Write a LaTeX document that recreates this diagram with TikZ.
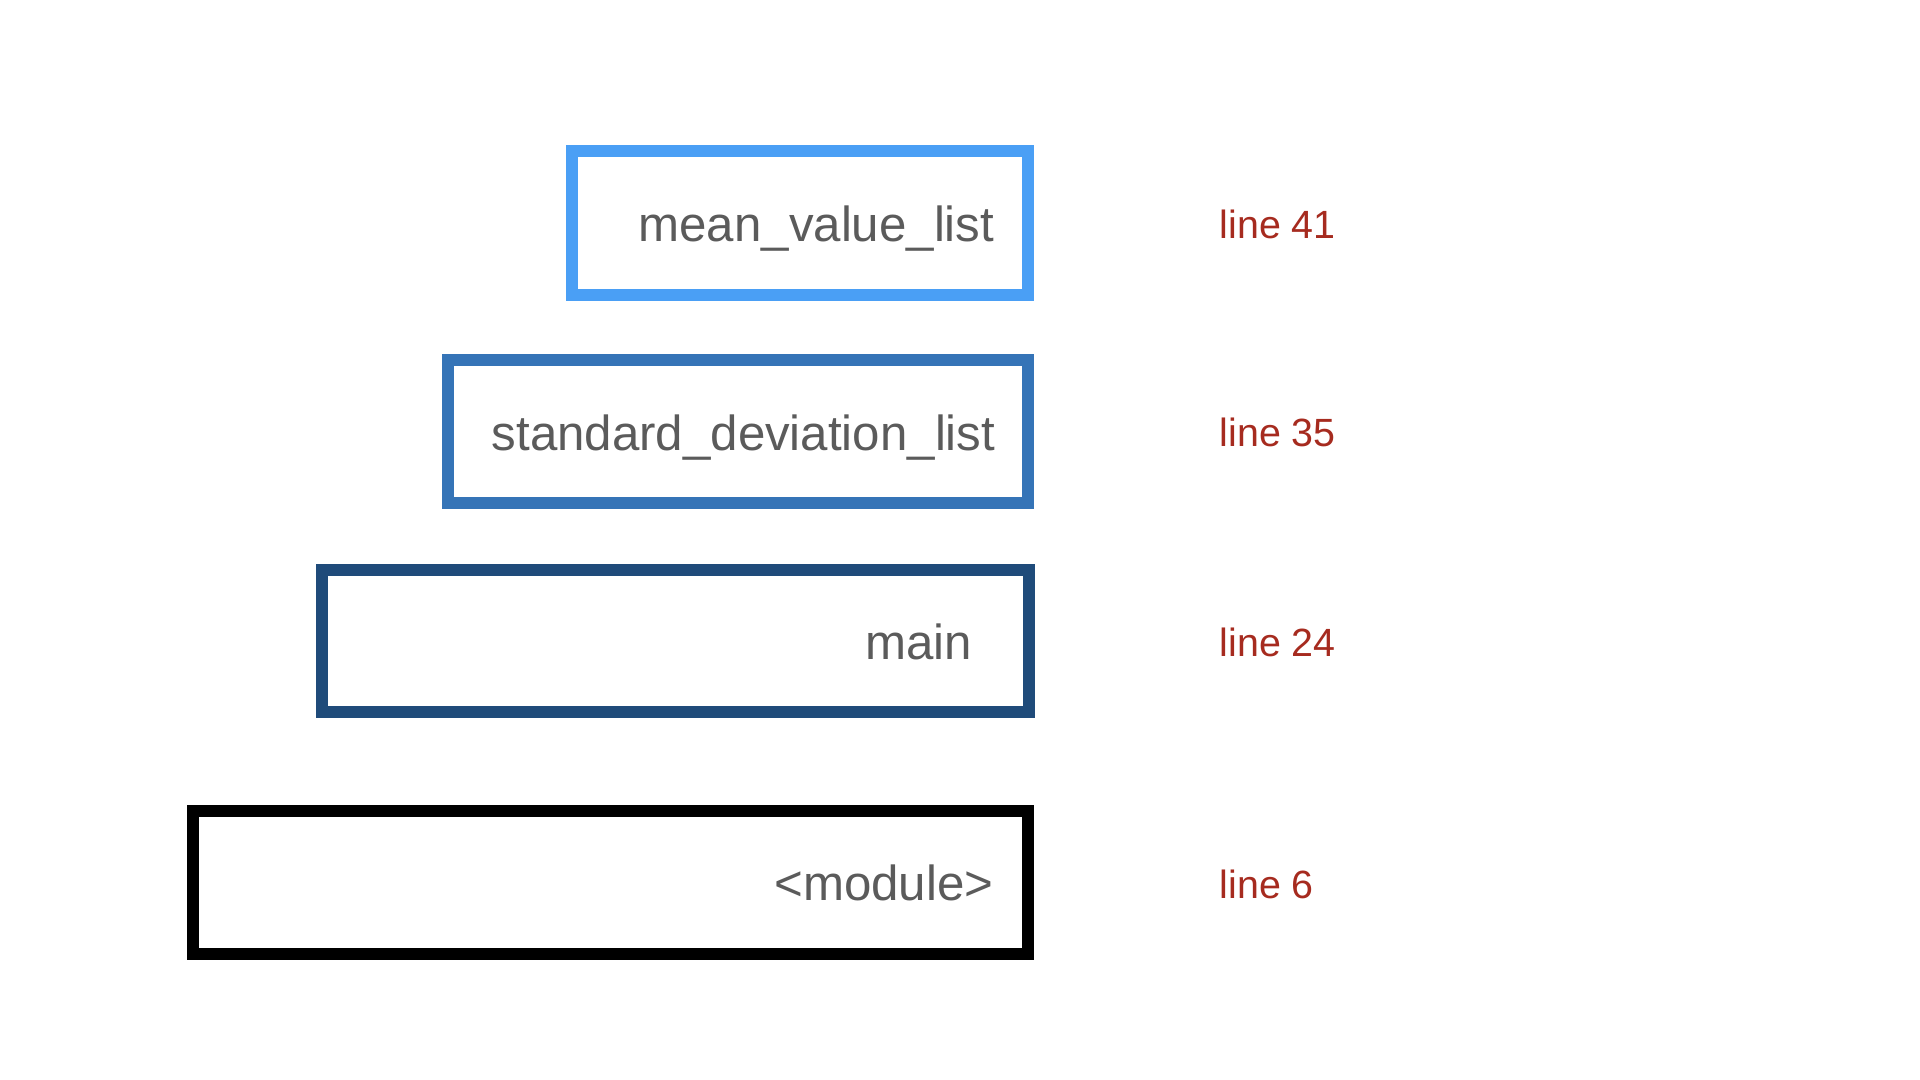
\documentclass[tikz,border=0pt]{standalone}
\usepackage{fontspec}
\setmainfont{Liberation Sans}
\definecolor{lightblue}{HTML}{4A9FF5}
\definecolor{midblue}{HTML}{3574B7}
\definecolor{darkblue}{HTML}{1F4B7A}
\definecolor{txtgray}{HTML}{5B5B5B}
\definecolor{linered}{HTML}{A62B1F}
\tikzset{
  framebox/.style={draw, line width=0.12cm, rectangle, inner sep=0pt, fill=white},
  fname/.style={anchor=base east, inner sep=0pt, text=txtgray, font=\fontsize{14pt}{17pt}\selectfont},
  lineref/.style={anchor=base west, inner sep=0pt, text=linered, font=\fontsize{11.2pt}{13pt}\selectfont}
}
\begin{document}
\begin{tikzpicture}[x=0.01cm, y=-0.01cm]
\useasboundingbox (0,0) rectangle (1920,1080);
% boxes (stroke centre lines)
\node[framebox, draw=lightblue, minimum width=4.56cm, minimum height=1.44cm] (b1) at (800,223) {};
\node[framebox, draw=midblue, minimum width=5.795cm, minimum height=1.43cm] (b2) at (738.25,431.5) {};
\node[framebox, draw=darkblue, minimum width=7.07cm, minimum height=1.42cm] (b3) at (675.5,641) {};
\node[framebox, draw=black, minimum width=8.35cm, minimum height=1.43cm] (b4) at (610.5,882.5) {};
% names
\node[fname] (t1) at (995,242) {mean\_value\_list};
\node[fname] (t2) at (996,451) {standard\_deviation\_list};
\node[fname] (t3) at (973,660) {main};
\node[fname] (t4) at (994,901) {<module>};
% line references
\node[lineref] (l1) at (1219,239) {line 41};
\node[lineref] (l2) at (1219,447) {line 35};
\node[lineref] (l3) at (1219,657) {line 24};
\node[lineref] (l4) at (1219,899) {line 6};
\end{tikzpicture}
\end{document}
